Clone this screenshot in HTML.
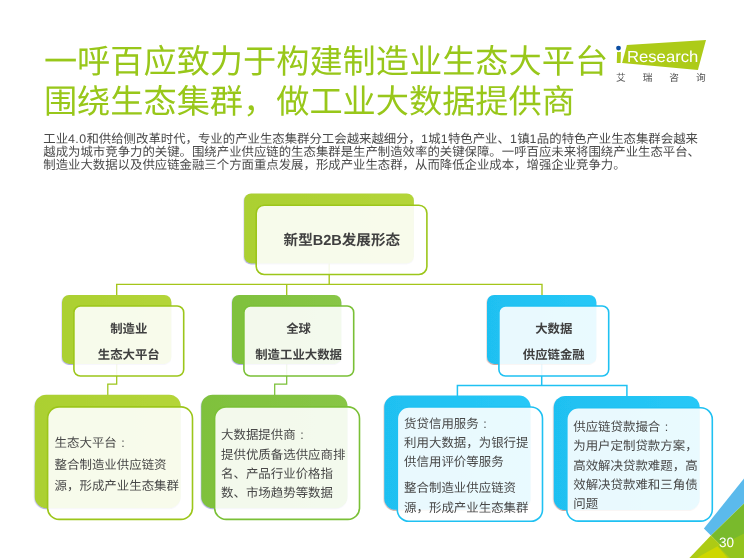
<!DOCTYPE html>
<html lang="zh-CN">
<head>
<meta charset="utf-8">
<title>一呼百应致力于构建制造业生态大平台</title>
<style>
html,body{margin:0;padding:0;}
body{width:744px;height:558px;position:relative;overflow:hidden;background:#fff;font-family:"Liberation Sans","Noto Sans CJK SC",sans-serif;text-rendering:geometricPrecision;}
.abs{position:absolute;}
.title,.para,.lbl,.txt,.logo-cn{position:absolute;margin:0;white-space:nowrap;font-family:"Liberation Sans","Noto Sans CJK SC",sans-serif;}
.title{left:43.9px;top:43px;font-size:33.2px;line-height:40.3px;font-weight:normal;color:#98c71a;}
.para{left:43.3px;top:132.8px;font-size:12.4px;line-height:13.1px;color:#4a4a4a;}
.lbl{font-weight:bold;text-align:center;color:#404040;}
.txt{font-size:12.45px;color:#484848;}
.logo-cn{left:616px;top:73px;font-size:9.7px;line-height:11px;letter-spacing:17px;color:#505050;}
.n{letter-spacing:.38px;}
.fw{display:inline-block;width:1em;text-align:center;}
</style>
</head>
<body>
<div id="stage" style="position:absolute;left:0;top:0;width:744px;height:558px;will-change:transform">
<h1 class="title">一呼百应致力于构建制造业生态大平台<br>围绕生态集群，做工业大数据提供商</h1>

<p class="para">工业<span class="n">4.0</span>和供给侧改革时代，专业的产业生态集群分工会越来越细分，<span class="n">1</span>城<span class="n">1</span>特色产业、<span class="n">1</span>镇<span class="n">1</span>品的特色产业生态集群会越来<br>越成为城市竞争力的关键。围绕产业供应链的生态集群是生产制造效率的关键保障。一呼百应未来将围绕产业生态平台、<br>制造业大数据以及供应链金融三个方面重点发展，形成产业生态群，从而降低企业成本，增强企业竞争力。</p>

<!-- logo -->
<svg class="abs" style="left:600px;top:30px" width="130" height="80" viewBox="600 30 130 80">
  <polygon points="626.9,45 706,39.9 697.9,69.9 622.1,63" fill="#adcb18"/>
  <polygon points="617.1,52.1 620.9,52.1 620.6,63 616.8,63" fill="#adcb18"/>
  <circle cx="618.5" cy="48.1" r="2.4" fill="#0b4ea2"/>
  <text x="627" y="61.7" font-family="Liberation Sans, sans-serif" font-size="16" fill="#fff" textLength="71.3" lengthAdjust="spacingAndGlyphs">Research</text>
</svg>
<div class="logo-cn">艾瑞咨询</div>

<!-- diagram shapes -->
<svg class="abs" style="left:0;top:0" width="744" height="558" viewBox="0 0 744 558" fill="none">
  <defs>
    <linearGradient id="g1" x1="0" x2="1" y1="0" y2="0"><stop offset="0" stop-color="#abd030"/><stop offset="1" stop-color="#b4d539"/></linearGradient>
    <linearGradient id="g2" x1="0" x2="1" y1="0" y2="0"><stop offset="0" stop-color="#7fc13d"/><stop offset="1" stop-color="#88c646"/></linearGradient>
    <linearGradient id="b1" x1="0" x2="1" y1="0" y2="0"><stop offset="0" stop-color="#1fc0f1"/><stop offset="1" stop-color="#27c8f7"/></linearGradient>
    <filter id="sg" x="-10%" y="-10%" width="120%" height="125%"><feDropShadow dx="-0.3" dy="0.9" stdDeviation="0.55" flood-color="#5a46c8" flood-opacity=".5"/></filter>
    <filter id="sb" x="-10%" y="-10%" width="120%" height="125%"><feDropShadow dx="-0.3" dy="0.9" stdDeviation="0.55" flood-color="#8c3c1e" flood-opacity=".5"/></filter>
  </defs>
  <!-- connectors -->
  <path d="M329.2 262 V284.4 M116.7 296 V284.4 H542 V296 M286.7 284.4 V296" stroke="#a4c51a" stroke-width="1.35"/>
  <path d="M116.7 363 V384.1 H107.8 V396" stroke="#9cc518" stroke-width="1.25"/>
  <path d="M286.7 363 V384.1 H274.7 V396" stroke="#7ac036" stroke-width="1.25"/>
  <path d="M541.7 363 V385.6 M457.4 397 V385.6 H626.9 V397" stroke="#1fc1f2" stroke-width="1.5"/>
  <!-- back panels -->
  <rect x="244.1" y="193.4" width="169.8" height="70" rx="7" fill="url(#g1)" filter="url(#sg)"/>
  <rect x="62" y="294.9" width="109.4" height="69" rx="7" fill="url(#g1)" filter="url(#sg)"/>
  <rect x="232" y="294.9" width="109.4" height="69" rx="7" fill="url(#g2)" filter="url(#sg)"/>
  <rect x="487" y="294.9" width="109.4" height="69" rx="7" fill="url(#b1)" filter="url(#sb)"/>
  <rect x="34.7" y="394.7" width="146" height="113.5" rx="11.5" fill="url(#g1)" filter="url(#sg)"/>
  <rect x="201.2" y="394.7" width="146.3" height="113.5" rx="11.5" fill="url(#g2)" filter="url(#sg)"/>
  <rect x="384.2" y="395.6" width="146.4" height="114.2" rx="11.5" fill="url(#b1)" filter="url(#sb)"/>
  <rect x="553.7" y="396" width="146" height="114" rx="11.5" fill="url(#b1)" filter="url(#sb)"/>
  <!-- front panels -->
  <rect x="256.20" y="205.20" width="170.70" height="69.30" rx="8" fill="#fff" fill-opacity=".9" stroke="#9cc61a" stroke-width="1.6"/>
  <rect x="73.90" y="306.00" width="109.80" height="70.00" rx="6.5" fill="#fff" fill-opacity=".9" stroke="#9cc61a" stroke-width="1.6"/>
  <rect x="243.90" y="306.00" width="109.80" height="70.00" rx="6.5" fill="#fff" fill-opacity=".9" stroke="#7ac036" stroke-width="1.6"/>
  <rect x="498.90" y="306.00" width="109.80" height="70.00" rx="6.5" fill="#fff" fill-opacity=".9" stroke="#1fc1f2" stroke-width="1.6"/>
  <rect x="47.60" y="406.90" width="144.90" height="112.50" rx="11.5" fill="#fff" fill-opacity=".9" stroke="#9cc61a" stroke-width="1.6"/>
  <rect x="214.60" y="406.90" width="144.90" height="112.50" rx="11.5" fill="#fff" fill-opacity=".9" stroke="#7ac036" stroke-width="1.6"/>
  <rect x="397.30" y="407.00" width="145.20" height="114.20" rx="11.5" fill="#fff" fill-opacity=".9" stroke="#1fc1f2" stroke-width="1.6"/>
  <rect x="566.80" y="407.70" width="145.50" height="113.40" rx="11.5" fill="#fff" fill-opacity=".9" stroke="#1fc1f2" stroke-width="1.6"/>
</svg>

<!-- root -->
<div class="lbl" style="left:256px;width:171.6px;top:230.6px;font-size:14.55px;line-height:21px">新型B2B发展形态</div>

<!-- level 2 -->
<div class="lbl" style="left:73.4px;width:110.8px;top:316.2px;font-size:12.4px;line-height:26.2px">制造业<br>生态大平台</div>
<div class="lbl" style="left:243.2px;width:110.8px;top:316.2px;font-size:12.4px;line-height:26.2px">全球<br>制造工业大数据</div>
<div class="lbl" style="left:498.4px;width:110.8px;top:316.2px;font-size:12.4px;line-height:26.2px">大数据<br>供应链金融</div>

<!-- level 3 -->
<div class="txt" style="left:54.6px;top:433.1px;line-height:21.4px">生态大平台<span class="fw">:</span><br>整合制造业供应链资<br>源，形成产业生态集群</div>
<div class="txt" style="left:221px;top:426.4px;line-height:19.3px">大数据提供商<span class="fw">:</span><br>提供优质备选供应商排<br>名、产品行业价格指<br>数、市场趋势等数据</div>
<div class="txt" style="left:404.1px;top:414.5px;line-height:19.15px">货贷信用服务<span class="fw">:</span><br>利用大数据，为银行提<br>供信用评价等服务<div style="height:7.4px"></div>整合制造业供应链资<br>源，形成产业生态集群</div>
<div class="txt" style="left:573.2px;top:418.1px;line-height:19.2px">供应链贷款撮合<span class="fw">:</span><br>为用户定制贷款方案，<br>高效解决贷款难题，高<br>效解决贷款难和三角债<br>问题</div>

<!-- corner decoration -->
<svg class="abs" style="left:680px;top:470px" width="64" height="88" viewBox="680 470 64 88">
  <polygon points="703.9,528.6 744,478.5 744,503.4 710.9,535.6" fill="#5bbaec"/>
  <polygon points="710.9,535.6 744,503.4 744,558 733,558" fill="#79ba2c"/>
  <polygon points="689.4,558 710.9,535.6 733.5,558" fill="#adcb14"/>
  <polygon points="718.5,546.5 744,533.4 744,558 730,558" fill="#93c41e"/>
  <polygon points="704,553.8 717.6,546.3 727.6,558 697,558" fill="#cdd700"/>
</svg>
<div class="abs" style="left:716px;top:534px;width:21px;text-align:center;font-size:13.5px;line-height:18px;color:#fff">30</div>
</div>
</body>
</html>
